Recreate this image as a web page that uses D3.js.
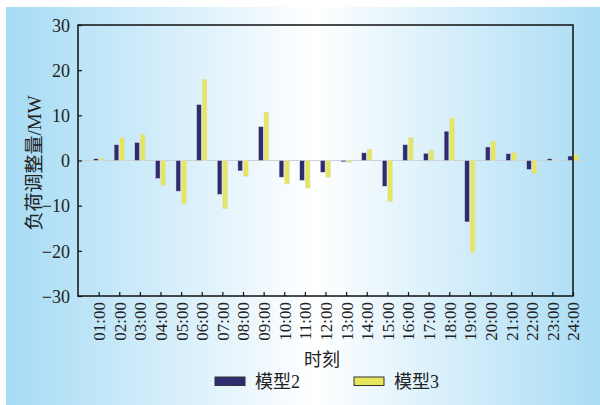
<!DOCTYPE html>
<html>
<head>
<meta charset="utf-8">
<script src="https://cdn.jsdelivr.net/npm/d3@7"></script>
<style>
  body { margin: 0; background: #fff; }
  text { font-family: "Liberation Serif", "Noto Sans CJK SC", serif; fill: #222; }
</style>
</head>
<body>
<div id="wrapper"></div>
<script>
// data
const hours = ["01:00","02:00","03:00","04:00","05:00","06:00","07:00","08:00","09:00","10:00","11:00","12:00",
               "13:00","14:00","15:00","16:00","17:00","18:00","19:00","20:00","21:00","22:00","23:00","24:00"]
const model2 = [0.4, 3.5, 4.0, -4.0, -6.8, 12.4, -7.5, -2.3, 7.5, -3.7, -4.4, -2.6,
                -0.3, 1.7, -5.7, 3.5, 1.6, 6.5, -13.6, 3.0, 1.5, -2.0, 0.4, 1.0]
const model3 = [0.5, 5.1, 5.8, -5.5, -9.6, 18.0, -10.7, -3.5, 10.7, -5.2, -6.1, -3.7,
                -0.4, 2.5, -9.1, 5.1, 2.3, 9.4, -20.4, 4.3, 1.8, -2.9, 0.2, 1.3]
const yTicks = [-30, -20, -10, 0, 10, 20, 30]
const seriesNames = ["模型2", "模型3"]
const seriesColors = ["#2e2b6f", "#e6e65a"]

const dimensions = {
  width: 600,
  height: 405,
  margin: { top: 25, right: 27, bottom: 109, left: 78 },
}
dimensions.boundedWidth = dimensions.width - dimensions.margin.left - dimensions.margin.right
dimensions.boundedHeight = dimensions.height - dimensions.margin.top - dimensions.margin.bottom

const wrapper = d3.select("#wrapper")
  .append("svg")
  .attr("width", dimensions.width)
  .attr("height", dimensions.height)

// background panel with horizontal gradient
const grad = wrapper.append("defs").append("linearGradient")
  .attr("id", "bg")
  .attr("x1", "0%").attr("x2", "100%")
  .attr("y1", "0%").attr("y2", "0%")
grad.append("stop").attr("offset", "0%").attr("stop-color", "#a6dbf4")
grad.append("stop").attr("offset", "52%").attr("stop-color", "#ffffff")
grad.append("stop").attr("offset", "100%").attr("stop-color", "#a9dcf4")

wrapper.append("rect")
  .attr("x", 6).attr("y", 7)
  .attr("width", dimensions.width - 6)
  .attr("height", dimensions.height - 7)
  .attr("fill", "url(#bg)")

const bounds = wrapper.append("g")
  .attr("transform", `translate(${dimensions.margin.left},${dimensions.margin.top})`)

// scales
const xScale = d3.scaleLinear()
  .domain([0, hours.length])
  .range([0, dimensions.boundedWidth])
const xPos = i => xScale(i + 1)
const step = xScale(1) - xScale(0)

const yScale = d3.scaleLinear()
  .domain([-30, 30])
  .range([dimensions.boundedHeight, 0])

// zero line
bounds.append("line")
  .attr("x1", 0)
  .attr("x2", dimensions.boundedWidth + 14)
  .attr("y1", yScale(0))
  .attr("y2", yScale(0))
  .attr("stroke", "#c8d2da")
  .attr("stroke-width", 1.2)

// bars
const barW = step * 0.23
const series = [model2, model3]
series.forEach((values, s) => {
  bounds.append("g")
    .selectAll("rect")
    .data(values)
    .join("rect")
      .attr("x", (d, i) => s === 0 ? xPos(i) - barW - 0.4 : xPos(i) + 0.4)
      .attr("y", d => yScale(Math.max(0, d)))
      .attr("width", barW)
      .attr("height", d => Math.abs(yScale(d) - yScale(0)))
      .attr("fill", seriesColors[s])
      .attr("stroke", "#d9dde0")
      .attr("stroke-width", 0.5)
})

// frame
bounds.append("rect")
  .attr("width", dimensions.boundedWidth)
  .attr("height", dimensions.boundedHeight)
  .attr("fill", "none")
  .attr("stroke", "#111")
  .attr("stroke-width", 1.5)

// y axis
const yAxisGenerator = d3.axisLeft(yScale)
  .tickValues(yTicks)
  .tickSize(-4)
  .tickPadding(8)
  .tickFormat(d => d < 0 ? "\u2212" + Math.abs(d) : d)
const yAxis = bounds.append("g").call(yAxisGenerator)
yAxis.select(".domain").remove()
yAxis.selectAll("line").attr("stroke", "#111").attr("stroke-width", 1.2)
yAxis.selectAll("text")
  .style("font-size", "18px")
  .attr("dy", "0.35em")

// x axis
const xAxisGenerator = d3.axisBottom(xScale)
  .tickValues(d3.range(1, hours.length + 1))
  .tickSize(-4)
  .tickFormat(d => hours[d - 1])
const xAxis = bounds.append("g")
  .attr("transform", `translate(0,${dimensions.boundedHeight})`)
  .call(xAxisGenerator)
xAxis.select(".domain").remove()
xAxis.selectAll("line").attr("stroke", "#111").attr("stroke-width", 1.2)
xAxis.selectAll("text")
  .style("font-size", "17px")
  .attr("text-anchor", "end")
  .attr("transform", "rotate(-90)")
  .attr("x", -6)
  .attr("y", 0)
  .attr("dy", "0.35em")

// axis titles
wrapper.append("text")
  .attr("x", 322)
  .attr("y", 366)
  .attr("text-anchor", "middle")
  .style("font-size", "18px")
  .text("时刻")

wrapper.append("text")
  .attr("transform", "translate(41,163) rotate(-90)")
  .attr("text-anchor", "middle")
  .style("font-size", "19px")
  .text("负荷调整量/MW")

// legend
const legendX = [215, 354]
seriesNames.forEach((name, s) => {
  wrapper.append("rect")
    .attr("x", legendX[s]).attr("y", 377)
    .attr("width", 30).attr("height", 8.5)
    .attr("fill", seriesColors[s])
    .attr("stroke", "#333")
    .attr("stroke-width", 1)
  wrapper.append("text")
    .attr("x", legendX[s] + 40)
    .attr("y", 388)
    .style("font-size", "18px")
    .text(name)
})
</script>
</body>
</html>
